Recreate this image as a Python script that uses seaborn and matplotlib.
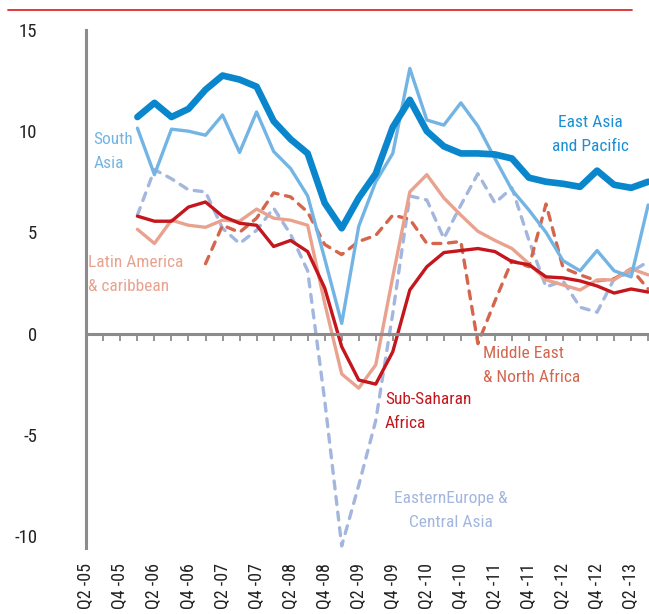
import numpy as np
import matplotlib.pyplot as plt
import seaborn as sns
from matplotlib.lines import Line2D

# quarterly categories, Q2 2005 .. Q3 2013
quarters = ["Q2 -05", "Q3 -05", "Q4 -05", "Q1 -06", "Q2 -06", "Q3 -06", "Q4 -06",
            "Q1 -07", "Q2 -07", "Q3 -07", "Q4 -07", "Q1 -08", "Q2 -08", "Q3 -08",
            "Q4 -08", "Q1 -09", "Q2 -09", "Q3 -09", "Q4 -09", "Q1 -10", "Q2 -10",
            "Q3 -10", "Q4 -10", "Q1 -11", "Q2 -11", "Q3 -11", "Q4 -11", "Q1 -12",
            "Q2 -12", "Q3 -12", "Q4 -12", "Q1 -13", "Q2 -13", "Q3 -13"]

na = np.nan
east_asia = [na, na, na, 10.7, 11.4, 10.7, 11.1, 12.05, 12.75, 12.55, 12.2, 10.5,
             9.6, 8.9, 6.45, 5.2, 6.7, 7.9, 10.2, 11.55, 10.0, 9.25, 8.9, 8.9, 8.85,
             8.65, 7.7, 7.5, 7.4, 7.25, 8.05, 7.35, 7.2, 7.5]
south_asia = [na, na, na, 10.15, 7.85, 10.1, 10.0, 9.8, 10.8, 8.95, 10.95, 9.0,
              8.15, 6.8, 3.7, 0.5, 5.3, 7.5, 8.9, 13.1, 10.55, 10.3, 11.4, 10.25,
              8.65, 7.1, 6.1, 5.0, 3.6, 3.1, 4.1, 3.1, 2.8, 6.35]
latin_america = [na, na, na, 5.15, 4.45, 5.6, 5.35, 5.25, 5.6, 5.55, 6.15, 5.7,
                 5.6, 5.35, 1.5, -2.0, -2.7, -1.55, 2.8, 7.0, 7.85, 6.7, 5.85, 5.05,
                 4.6, 4.2, 3.45, 2.65, 2.4, 2.15, 2.65, 2.65, 3.2, 2.9]
sub_saharan = [na, na, na, 5.8, 5.55, 5.55, 6.25, 6.5, 5.8, 5.45, 5.35, 4.3, 4.6,
               4.05, 2.25, -0.65, -2.3, -2.5, -0.9, 2.15, 3.3, 4.0, 4.1, 4.2, 4.05,
               3.55, 3.4, 2.8, 2.75, 2.6, 2.35, 2.0, 2.2, 2.05]
middle_east = [na, na, na, na, na, na, na, 3.45, 5.35, 5.0, 5.7, 6.95, 6.75, 6.0,
               4.4, 3.9, 4.55, 4.85, 5.85, 5.65, 4.45, 4.45, 4.55, -0.5, 1.6, 3.6,
               3.3, 6.4, 3.25, 2.9, 2.6, 2.7, 3.2, 2.2]
eastern_europe = [na, na, na, 5.85, 8.1, 7.65, 7.1, 7.0, 5.2, 4.45, 5.1, 6.2, 4.9,
                  3.1, -3.3, -10.5, -7.5, -4.3, 1.0, 6.8, 6.6, 4.7, 6.35, 7.9, 6.45,
                  7.2, 4.6, 2.3, 2.6, 1.3, 1.05, 2.7, 3.05, 3.55]

yticks = [-10, -5, 0, 5, 10, 15]

gray = "#8c8c8c"
fam = ["Noto Sans Condensed", "Roboto Condensed", "Liberation Sans Narrow",
       "Liberation Sans", "DejaVu Sans"]

sns.set_theme(style="white")
plt.rcParams["font.family"] = fam

fig = plt.figure(figsize=(6.49, 6.14), dpi=100)
ax = fig.add_axes([86 / 649, 1 - 548 / 614, 563 / 649, 518 / 614])

x = np.arange(len(quarters))
dash = (0, (2.4, 2.3))

series = [
    (eastern_europe, "#a3b6de", 2.4, dash),
    (middle_east, "#d4664e", 2.4, dash),
    (latin_america, "#e9a28e", 2.4, "-"),
    (south_asia, "#72b5e5", 2.4, "-"),
    (sub_saharan, "#c3161d", 2.4, "-"),
    (east_asia, "#0a87cc", 4.8, "-"),
]
for vals, col, lw, ls in series:
    sns.lineplot(x=x, y=vals, color=col, linewidth=lw, linestyle=ls,
                 dash_capstyle="round", solid_joinstyle="round", ax=ax)

ax.set_xlim(-0.02, 33.05)
ax.set_ylim(-10.6, 15)

# spine first: moving it resets tick settings
for s in ["top", "right"]:
    ax.spines[s].set_visible(False)
ax.spines["bottom"].set_position(("data", 0))
ax.spines["bottom"].set_color(gray)
ax.spines["bottom"].set_linewidth(2.2)
ax.spines["left"].set_color(gray)
ax.spines["left"].set_linewidth(2.2)
ax.grid(False)

ax.set_xticks(x[::2])
ax.set_xticklabels(quarters[::2], rotation=90, fontsize=13, color="#222222")
ax.set_xticks(x[1::2], minor=True)
ax.tick_params(axis="x", which="both", direction="out", length=5, width=1.3,
               color=gray, pad=160, bottom=True)
ax.set_yticks(yticks)
ax.set_yticklabels([str(v) for v in yticks], fontsize=13.5, color="#222222")
ax.tick_params(axis="y", length=0, pad=35)

lab = dict(fontsize=12.5, linespacing=1.75, va="top")
ax.text(0.41, 9.95, "South\nAsia", color="#72b5e5", ha="left", **lab)
ax.text(29.6, 10.8, "East Asia\nand Pacific", color="#1a8fd5", ha="center",
        multialignment="center", **lab)
ax.text(0.1, 3.9, "Latin America\n& caribbean", color="#e9a28e", ha="left", **lab)
ax.text(23.3, -0.6, "Middle East\n& North Africa", color="#d4664e", ha="left", **lab)
ax.text(17.55, -2.9, "Sub-Saharan\nAfrica", color="#c3161d", ha="left", **lab)
ax.text(21.4, -7.8, "EasternEurope &\nCentral Asia", color="#a3b6de", ha="center",
        multialignment="center", **lab)

fig.add_artist(Line2D([8 / 649, 632 / 649], [1 - 10 / 614, 1 - 10 / 614],
                      color="#e2262b", linewidth=1.3))

fig.savefig("out.png", dpi=100, facecolor="white")
